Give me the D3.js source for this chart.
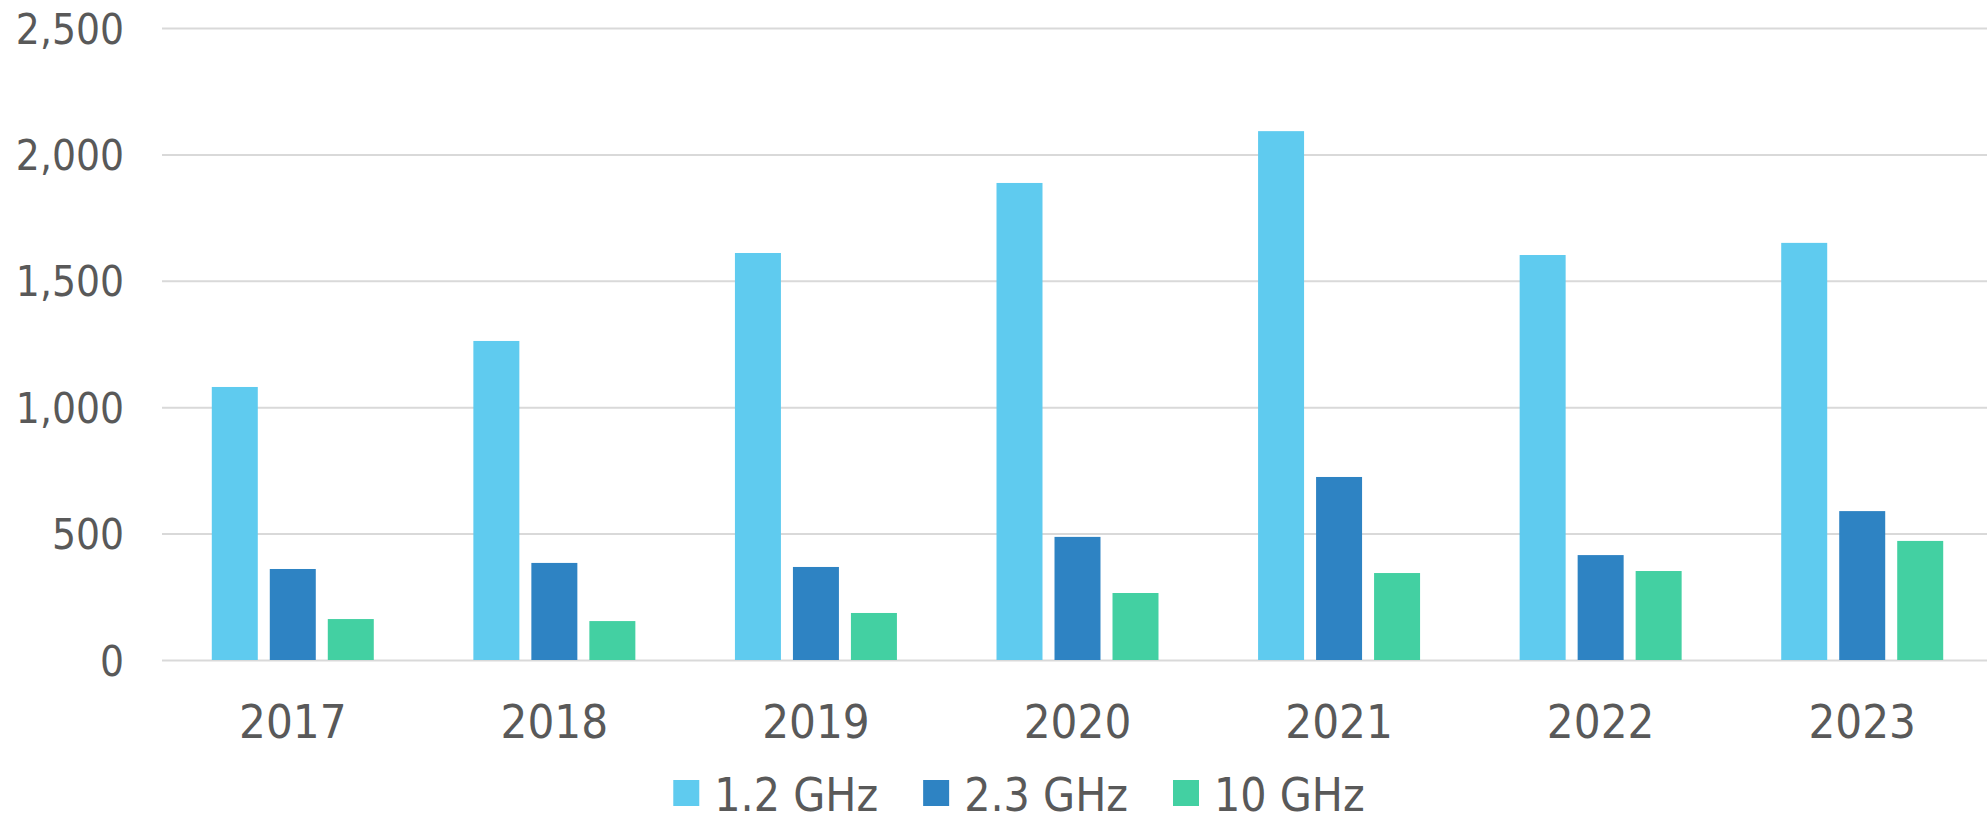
<!DOCTYPE html>
<html>
<head>
<meta charset="utf-8">
<script src="https://cdn.jsdelivr.net/npm/d3@7"></script>
<style>
  html, body { margin: 0; padding: 0; background: #ffffff; }
  svg { display: block; }
  text { font-family: "DejaVu Sans Condensed", "DejaVu Sans", sans-serif; fill: #595959; }
</style>
</head>
<body>
<svg id="chart" width="1987" height="822"></svg>
<script>
const categories = ["2017", "2018", "2019", "2020", "2021", "2022", "2023"];
const seriesNames = ["1.2 GHz", "2.3 GHz", "10 GHz"];
const values12 = [1080, 1262, 1610, 1887, 2092, 1602, 1650];
const values23 = [360, 384, 368, 487, 724, 415, 589];
const values10 = [162, 154, 186, 265, 344, 352, 471];
const yTicks = [0, 500, 1000, 1500, 2000, 2500];
const colors = ["#5FCBEF", "#2E83C3", "#43D0A2"];

const seriesValues = [values12, values23, values10];

const svg = d3.select("#chart");
const W = 1987;

const x = d3.scaleBand().domain(categories).range([162, 1993]).paddingInner(0.3807).paddingOuter(0.3807 / 2);
const xs = d3.scaleBand().domain(seriesNames).range([0, x.bandwidth()]).paddingInner(0.207).paddingOuter(0);
const y = d3.scaleLinear().domain([0, 2500]).range([660, 28]);

// gridlines
const grid = svg.append("g")
  .attr("transform", "translate(162,0)")
  .call(d3.axisLeft(y).tickValues(yTicks).tickSize(-(W - 162)).tickFormat(""));
grid.select(".domain").remove();
grid.selectAll("line").attr("stroke", "#D9D9D9").attr("stroke-width", 2);

// y labels
const yAxis = svg.append("g")
  .attr("transform", "translate(124,0)")
  .call(d3.axisLeft(y).tickValues(yTicks).tickSize(0).tickPadding(0).tickFormat(d3.format(",")));
yAxis.select(".domain").remove();
yAxis.selectAll("text")
  .attr("font-size", 42)
  .attr("font-family", "'DejaVu Sans Condensed', 'DejaVu Sans', sans-serif")
  .attr("fill", "#595959")
  .attr("dy", null)
  .attr("y", 15)
  .attr("text-anchor", "end");

// bars
const groups = svg.append("g").selectAll("g")
  .data(categories)
  .join("g")
  .attr("transform", d => `translate(${x(d)},0)`);

groups.selectAll("rect")
  .data((d, i) => seriesNames.map((s, j) => ({ s, v: seriesValues[j][i], j })))
  .join("rect")
  .attr("x", d => xs(d.s))
  .attr("width", xs.bandwidth())
  .attr("y", d => y(d.v))
  .attr("height", d => y(0) - y(d.v))
  .attr("fill", d => colors[d.j]);

// x labels
const xAxis = svg.append("g")
  .attr("transform", "translate(0,660)")
  .call(d3.axisBottom(x).tickSize(0).tickPadding(0));
xAxis.select(".domain").remove();
xAxis.selectAll("text")
  .attr("font-size", 47)
  .attr("font-family", "'DejaVu Sans Condensed', 'DejaVu Sans', sans-serif")
  .attr("fill", "#595959")
  .attr("dy", null)
  .attr("y", 78);

// legend
const legend = svg.append("g");
const items = legend.selectAll("g").data(seriesNames).join("g");
items.append("rect").attr("width", 26).attr("height", 26).attr("y", 780).attr("fill", (d, i) => colors[i]);
items.append("text").text(d => d).attr("x", 41).attr("y", 811).attr("font-size", 46);
let cx = 0;
const positions = [];
items.each(function(d, i) {
  const tw = this.querySelector("text").getComputedTextLength();
  positions.push(cx);
  cx += 41 + tw + 45;
});
const totalW = cx - 45;
const startX = 1019 - totalW / 2;
items.attr("transform", (d, i) => `translate(${startX + positions[i]},0)`);
</script>
</body>
</html>
